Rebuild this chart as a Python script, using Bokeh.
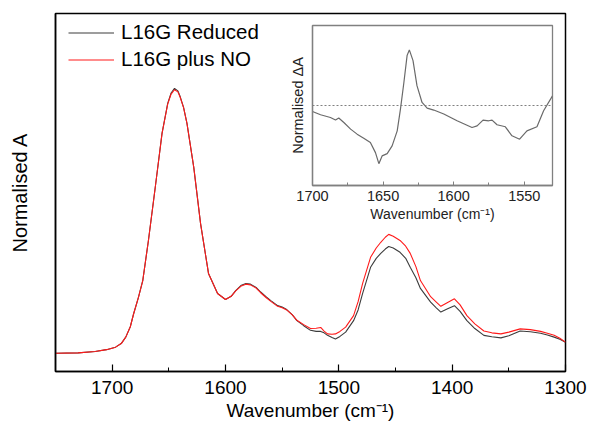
from bokeh.plotting import figure
from bokeh.models import Range1d, FixedTicker, Column, Span
from bokeh.embed import file_html
from bokeh.resources import INLINE

# ---------------- data ----------------
wavenumber = [1750, 1730, 1715, 1705, 1697, 1692, 1688, 1684, 1681, 1677, 1673, 1668,
              1662, 1656, 1651, 1648, 1645, 1642, 1640, 1637, 1634, 1628, 1622, 1615,
              1607, 1600, 1595, 1591, 1586, 1582, 1578, 1573, 1569, 1564, 1560, 1554,
              1550, 1546, 1541, 1537, 1531, 1525, 1520, 1516, 1513, 1510, 1506, 1503,
              1499, 1494, 1487, 1483, 1479, 1472, 1467, 1463, 1459, 1456, 1452, 1446,
              1441, 1437, 1432, 1428, 1419, 1414, 1410, 1404, 1398, 1393, 1387, 1380,
              1372, 1365, 1357, 1350, 1340, 1331, 1322, 1316, 1310, 1305, 1300]

reduced = [0.051, 0.052, 0.056, 0.061, 0.068, 0.078, 0.096, 0.125, 0.162, 0.205, 0.254, 0.366,
           0.514, 0.665, 0.749, 0.778, 0.791, 0.784, 0.768, 0.738, 0.693, 0.570, 0.413, 0.274,
           0.218, 0.201, 0.210, 0.226, 0.241, 0.246, 0.244, 0.235, 0.222, 0.208, 0.198, 0.184,
           0.180, 0.173, 0.158, 0.142, 0.128, 0.115, 0.112, 0.112, 0.108, 0.101, 0.095, 0.091,
           0.098, 0.110, 0.142, 0.172, 0.218, 0.291, 0.316, 0.330, 0.342, 0.349, 0.345, 0.333,
           0.316, 0.291, 0.262, 0.232, 0.194, 0.178, 0.166, 0.175, 0.184, 0.168, 0.142, 0.120,
           0.101, 0.097, 0.094, 0.100, 0.113, 0.111, 0.107, 0.102, 0.096, 0.090, 0.082]

plus_no = [0.051, 0.052, 0.056, 0.061, 0.068, 0.078, 0.096, 0.125, 0.162, 0.205, 0.254, 0.366,
           0.514, 0.665, 0.747, 0.775, 0.787, 0.781, 0.766, 0.737, 0.693, 0.570, 0.413, 0.274,
           0.218, 0.201, 0.210, 0.225, 0.239, 0.244, 0.242, 0.233, 0.220, 0.206, 0.196, 0.182,
           0.178, 0.172, 0.158, 0.143, 0.131, 0.120, 0.121, 0.123, 0.113, 0.105, 0.104, 0.105,
           0.112, 0.124, 0.156, 0.195, 0.246, 0.319, 0.345, 0.361, 0.375, 0.383, 0.378, 0.366,
           0.350, 0.330, 0.293, 0.254, 0.209, 0.194, 0.182, 0.193, 0.203, 0.186, 0.156, 0.133,
           0.113, 0.108, 0.105, 0.110, 0.119, 0.117, 0.112, 0.107, 0.101, 0.093, 0.082]

inset_wavenumber = [1700, 1694.3, 1687.3, 1683.7, 1681.4, 1677.8, 1673, 1668.4, 1663.7, 1659,
                    1655.4, 1653, 1650.7, 1647.1, 1643.6, 1640, 1637.7, 1635.4, 1633, 1631.4,
                    1628.8, 1626, 1622.4, 1618.8, 1614.1, 1607, 1597.6, 1587, 1583.4, 1579.2,
                    1575.2, 1572.8, 1569.3, 1563.4, 1558.7, 1553.3, 1548.1, 1541, 1536.3, 1530]

delta_a = [-0.075, -0.116, -0.150, -0.182, -0.157, -0.213, -0.295, -0.358, -0.408, -0.463,
           -0.589, -0.727, -0.630, -0.601, -0.505, -0.317, -0.045, 0.269, 0.624, 0.695,
           0.561, 0.248, 0.038, -0.032, -0.057, -0.107, -0.191, -0.275, -0.254, -0.182,
           -0.191, -0.182, -0.241, -0.266, -0.379, -0.421, -0.317, -0.266, -0.066, 0.120]

main_ticks = [1700, 1600, 1500, 1400, 1300]
main_minor = [1650, 1550, 1450, 1350]
inset_ticks = [1700, 1650, 1600, 1550]
inset_minor = [1675, 1625, 1575]

FONT = "Liberation Sans"

# ---------------- main plot ----------------
p = figure(width=590, height=426, output_backend="svg", toolbar_location=None,
           x_range=Range1d(1750, 1300), y_range=Range1d(0, 1),
           min_border_left=55, min_border_right=25, min_border_top=13, min_border_bottom=55)
p.grid.visible = False
p.outline_line_color = "black"
p.outline_line_width = 1.5
p.background_fill_color = "white"
p.border_fill_color = "white"

xa = p.xaxis[0]
xa.ticker = FixedTicker(ticks=main_ticks, minor_ticks=main_minor)
xa.axis_line_color = "black"
xa.axis_line_width = 1.5
xa.major_tick_in = 7
xa.major_tick_out = 0
xa.minor_tick_in = 4
xa.minor_tick_out = 0
xa.major_tick_line_color = "black"
xa.minor_tick_line_color = "black"
xa.major_tick_line_width = 1.2
xa.major_label_text_font = FONT
xa.major_label_text_font_size = "19px"
xa.major_label_text_color = "black"
xa.major_label_standoff = 9
xa.axis_label = "Wavenumber (cm\u207b\u00b9)"
xa.axis_label_text_font = FONT
xa.axis_label_text_font_size = "19px"
xa.axis_label_text_font_style = "normal"
xa.axis_label_text_color = "black"
xa.axis_label_standoff = 3

ya = p.yaxis[0]
ya.ticker = FixedTicker(ticks=[])
ya.axis_line_color = "black"
ya.axis_line_width = 1.5
ya.major_tick_out = 0
ya.major_tick_in = 0
ya.minor_tick_out = 0
ya.minor_tick_in = 0
ya.major_label_text_font_size = "0px"
ya.axis_label = "Normalised A"
ya.axis_label_text_font = FONT
ya.axis_label_text_font_size = "20px"
ya.axis_label_text_font_style = "normal"
ya.axis_label_text_color = "black"
ya.axis_label_standoff = 25

p.line(wavenumber, reduced, line_color="#3c3c3c", line_width=1.1, legend_label="L16G Reduced")
p.line(wavenumber, plus_no, line_color="#ff1a1a", line_width=1.1, legend_label="L16G plus NO")

lg = p.legend[0]
lg.location = (13, 300)
lg.margin = 0
lg.padding = 0
lg.spacing = 3
lg.label_height = 23
lg.glyph_height = 23
lg.glyph_width = 46
lg.label_standoff = 7
lg.label_text_font = FONT
lg.label_text_font_size = "20.5px"
lg.label_text_color = "black"
lg.border_line_alpha = 0
lg.background_fill_alpha = 0

# ---------------- inset (overlaid through a negative top margin) ----------------
# the column aligns left/right borders with the main plot (55 / 25)
ins = figure(width=320, height=207, output_backend="svg", toolbar_location=None,
             x_range=Range1d(1700, 1530), y_range=Range1d(-1, 1),
             min_border_left=55, min_border_right=25, min_border_top=5, min_border_bottom=42)
ins.grid.visible = False
ins.background_fill_color = None
ins.border_fill_color = None
ins.outline_line_color = "#808080"
ins.outline_line_width = 1.3
ins.margin = (-406, 0, 199, 257)

ixa = ins.xaxis[0]
ixa.ticker = FixedTicker(ticks=inset_ticks, minor_ticks=inset_minor)
ixa.axis_line_color = "#808080"
ixa.axis_line_width = 1.3
ixa.major_tick_in = 4
ixa.major_tick_out = 0
ixa.minor_tick_in = 3
ixa.minor_tick_out = 0
ixa.major_tick_line_color = "#808080"
ixa.minor_tick_line_color = "#808080"
ixa.major_label_text_font = FONT
ixa.major_label_text_font_size = "14.5px"
ixa.major_label_text_color = "#222222"
ixa.major_label_standoff = 5
ixa.axis_label = "Wavenumber (cm\u207b\u00b9)"
ixa.axis_label_text_font = FONT
ixa.axis_label_text_font_size = "14px"
ixa.axis_label_text_font_style = "normal"
ixa.axis_label_text_color = "#222222"
ixa.axis_label_standoff = 2

iya = ins.yaxis[0]
iya.ticker = FixedTicker(ticks=[])
iya.axis_line_color = "#808080"
iya.axis_line_width = 1.3
iya.major_tick_out = 0
iya.major_tick_in = 0
iya.minor_tick_out = 0
iya.minor_tick_in = 0
iya.major_label_text_font_size = "0px"
iya.axis_label = "Normalised \u0394A"
iya.axis_label_text_font = FONT
iya.axis_label_text_font_size = "14.5px"
iya.axis_label_text_font_style = "normal"
iya.axis_label_text_color = "#222222"
iya.axis_label_standoff = 7

ins.add_layout(Span(location=0, dimension="width", line_color="#808080",
                    line_width=1, line_dash="2 2"))
ins.line(inset_wavenumber, delta_a, line_color="#6a6a6a", line_width=1.2)

layout = Column(children=[p, ins], spacing=0)

open("out.html", "w").write(file_html(layout, INLINE))
